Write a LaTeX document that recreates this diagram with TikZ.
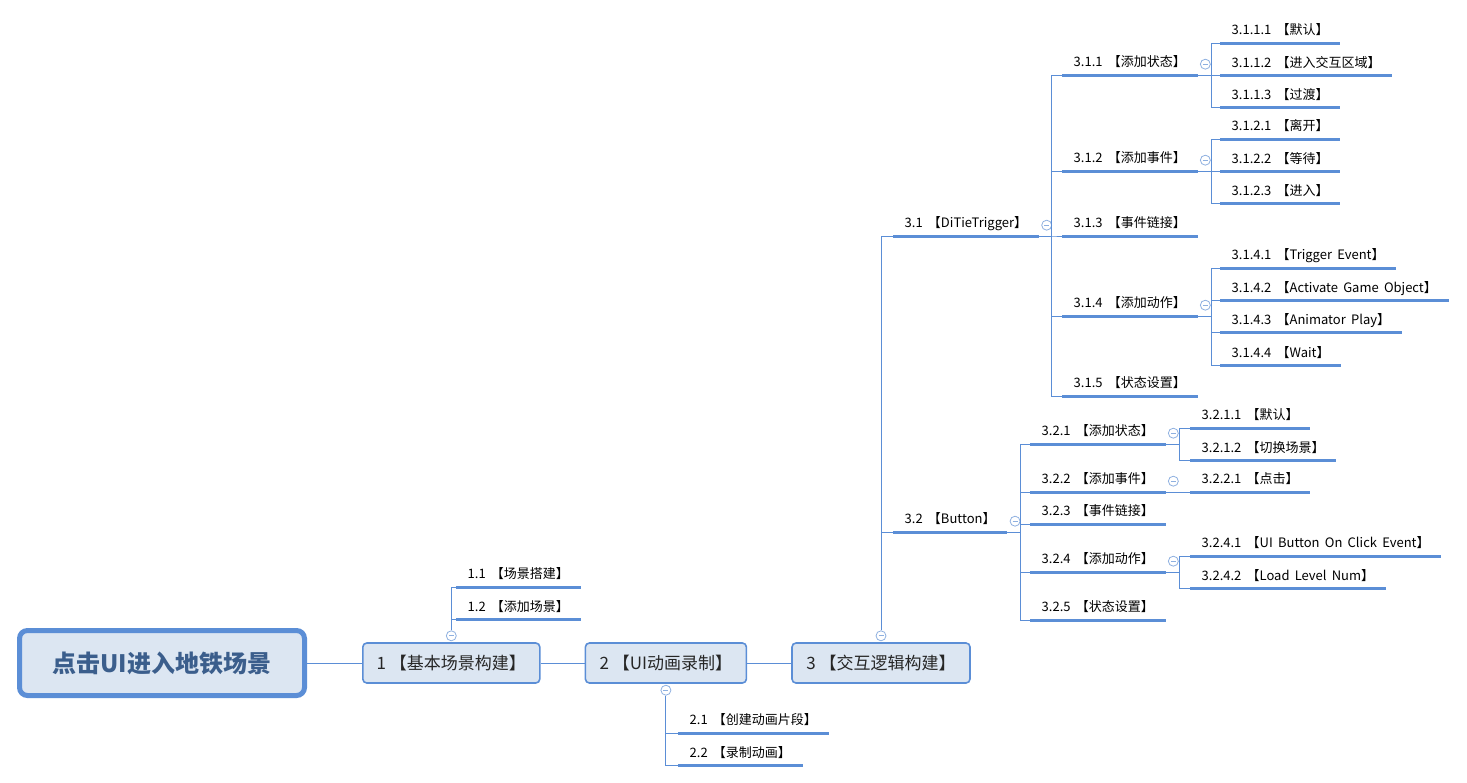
\documentclass[tikz,border=0pt]{standalone}
\usepackage{fontspec}
\setmainfont{Noto Sans CJK SC}
\newfontfamily\subfont{Noto Sans CJK SC}[WordSpace=1.8]
\usetikzlibrary{positioning}
\definecolor{lineblue}{HTML}{5B8ED6}
\definecolor{boxfill}{HTML}{DCE6F2}
\definecolor{roottext}{HTML}{3B5E8C}
\definecolor{foldblue}{HTML}{8EB0E0}
\tikzset{
    %Define style for the central topic
    topic/.style={
           rectangle,
           rounded corners=8pt,
           draw=lineblue, line width=5pt,
           fill=boxfill,
           text=roottext,
           font=\fontsize{24}{28}\selectfont\bfseries,
           minimum width=285pt,
           minimum height=65pt},
    %Define style for main branches
    mainbox/.style={
           rectangle,
           rounded corners=4pt,
           draw=lineblue, line width=1.6pt,
           fill=boxfill,
           text=black!85,
           font=\fontsize{17}{20}\selectfont,
           minimum height=40pt},
    %Define style for underlined subtopics
    sub/.style={
           anchor=south west,
           font=\subfont\fontsize{13}{15}\selectfont,
           text height=9pt,
           text depth=3pt,
           inner ysep=5pt,
           inner xsep=11.5pt,
           append after command={(\tikzlastnode.south west) edge[uline] (\tikzlastnode.south east)}},
    uline/.style={draw=lineblue, line width=3pt},
    % Define connector style
    link/.style={draw=lineblue, line width=1pt},
    % collapse marker
    fold/.style={
           circle,
           draw=foldblue, line width=0.8pt,
           fill=white,
           minimum size=10pt,
           inner sep=0pt,
           path picture={\draw[foldblue, line width=0.8pt]
              ([xshift=-2.5pt]path picture bounding box.center) --
              ([xshift=2.5pt]path picture bounding box.center);}},
}
\begin{document}
\begin{tikzpicture}[x=1pt, y=-1pt]
 \useasboundingbox (0,0) rectangle (1467,782);
 %main row
 \node[topic] (root) at (162,663) {点击UI进入地铁场景};
 \node[mainbox, minimum width=177pt, right=55pt of root] (basic) {1 【基本场景构建】};
 \node[mainbox, minimum width=161pt, right=44pt of basic] (anim) {2 【UI动画录制】};
 \node[mainbox, minimum width=178pt, right=44pt of anim] (logic) {3 【交互逻辑构建】};
 \node[fold, above=1pt of basic] (fbasic) {};
 \node[fold, below=1pt of anim] (fanim) {};
 \node[fold, above=1pt of logic] (flogic) {};
 %branch 1
 \node[sub] (s11) at (456,587) {1.1 【场景搭建】};
 \node[sub, below=10pt of s11.south west, anchor=north west] (s12) {1.2 【添加场景】};
 %branch 2
 \node[sub] (s21) at (678,733) {2.1 【创建动画片段】};
 \node[sub, below=10pt of s21.south west, anchor=north west] (s22) {2.2 【录制动画】};
 %branch 3
 \node[sub] (t31) at (893,236) {3.1 【DiTieTrigger】};
 \node[sub] (t32) at (893,532) {3.2 【Button】};
 \node[fold, above right=7pt and 4pt of t31.south east] (ft31) {};
 \node[fold, above right=7pt and 4pt of t32.south east] (ft32) {};
 % 3.1
 \node[sub] (t311) at (1062,75) {3.1.1 【添加状态】};
 \node[sub] (t312) at (1062,171) {3.1.2 【添加事件】};
 \node[sub] (t313) at (1062,236) {3.1.3 【事件链接】};
 \node[sub] (t314) at (1062,316) {3.1.4 【添加动作】};
 \node[sub] (t315) at (1062,396) {3.1.5 【状态设置】};
 \node[fold, above right=7pt and 4pt of t311.south east] (ft311) {};
 \node[fold, above right=7pt and 4pt of t312.south east] (ft312) {};
 \node[fold, above right=7pt and 4pt of t314.south east] (ft314) {};
 \node[sub] (t3111) at (1220,43) {3.1.1.1 【默认】};
 \node[sub, below=10pt of t3111.south west, anchor=north west] (t3112) {3.1.1.2 【进入交互区域】};
 \node[sub, below=10pt of t3112.south west, anchor=north west] (t3113) {3.1.1.3 【过渡】};
 \node[sub] (t3121) at (1220,139) {3.1.2.1 【离开】};
 \node[sub, below=10pt of t3121.south west, anchor=north west] (t3122) {3.1.2.2 【等待】};
 \node[sub, below=10pt of t3122.south west, anchor=north west] (t3123) {3.1.2.3 【进入】};
 \node[sub] (t3141) at (1220,268) {3.1.4.1 【Trigger Event】};
 \node[sub, below=10pt of t3141.south west, anchor=north west] (t3142) {3.1.4.2 【Activate Game Object】};
 \node[sub, below=10pt of t3142.south west, anchor=north west] (t3143) {3.1.4.3 【Animator Play】};
 \node[sub, below=10pt of t3143.south west, anchor=north west] (t3144) {3.1.4.4 【Wait】};
 % 3.2
 \node[sub] (t321) at (1030,444) {3.2.1 【添加状态】};
 \node[sub] (t322) at (1030,492) {3.2.2 【添加事件】};
 \node[sub] (t323) at (1030,524) {3.2.3 【事件链接】};
 \node[sub] (t324) at (1030,572) {3.2.4 【添加动作】};
 \node[sub] (t325) at (1030,620) {3.2.5 【状态设置】};
 \node[fold, above right=7pt and 4pt of t321.south east] (ft321) {};
 \node[fold, above right=7pt and 4pt of t322.south east] (ft322) {};
 \node[fold, above right=7pt and 4pt of t324.south east] (ft324) {};
 \node[sub] (t3211) at (1190,428) {3.2.1.1 【默认】};
 \node[sub, below=10pt of t3211.south west, anchor=north west] (t3212) {3.2.1.2 【切换场景】};
 \node[sub] (t3221) at (1190,492) {3.2.2.1 【点击】};
 \node[sub] (t3241) at (1190,556) {3.2.4.1 【UI Button On Click Event】};
 \node[sub, below=10pt of t3241.south west, anchor=north west] (t3242) {3.2.4.2 【Load Level Num】};
 %edges
 \draw[link] (root) -- (basic);
 \draw[link] (basic) -- (anim);
 \draw[link] (anim) -- (logic);
 \draw[link] (fbasic) |- (s11.south west);
 \draw[link] (fbasic) |- (s12.south west);
 \draw[link] (fanim) |- (s21.south west);
 \draw[link] (fanim) |- (s22.south west);
 \draw[link] (flogic) |- (t31.south west);
 \draw[link] (flogic) |- (t32.south west);
 \foreach \c in {t311,t312,t313,t314,t315}
   \draw[link] (t31.south east) -- ++(13,0) |- (\c.south west);
 \foreach \c in {t3111,t3112,t3113}
   \draw[link] (t311.south east) -- ++(14,0) |- (\c.south west);
 \foreach \c in {t3121,t3122,t3123}
   \draw[link] (t312.south east) -- ++(14,0) |- (\c.south west);
 \foreach \c in {t3141,t3142,t3143,t3144}
   \draw[link] (t314.south east) -- ++(14,0) |- (\c.south west);
 \foreach \c in {t321,t322,t323,t324,t325}
   \draw[link] (t32.south east) -- ++(13,0) |- (\c.south west);
 \foreach \c in {t3211,t3212}
   \draw[link] (t321.south east) -- ++(14,0) |- (\c.south west);
 \draw[link] (t322.south east) -- (t3221.south west);
 \foreach \c in {t3241,t3242}
   \draw[link] (t324.south east) -- ++(14,0) |- (\c.south west);
\end{tikzpicture}
\end{document}
